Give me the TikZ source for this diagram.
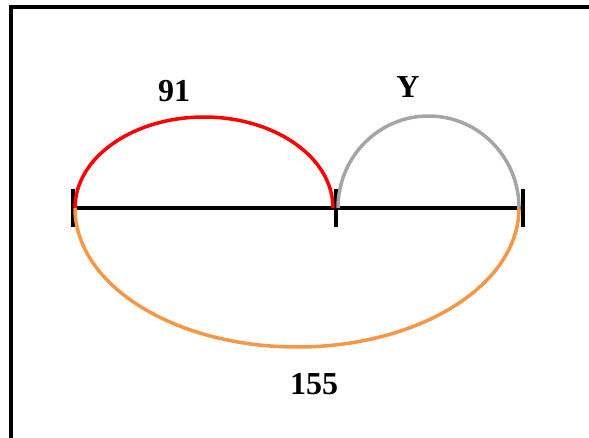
\documentclass[tikz,border=0pt]{standalone}
\usepackage{fontspec}
\setmainfont{Liberation Serif}
\definecolor{arcorange}{RGB}{247,150,70}
\definecolor{arcgray}{RGB}{165,165,165}

\begin{document}
\begin{tikzpicture}[x=1pt, y=1pt, every node/.style={font=\fontsize{32}{32}\selectfont\bfseries},
	arcline/.style={line width=3.5pt}, tickmark/.style={line width=4pt}]
	\clip (0,0) rectangle (589,437);
	% frame
	\draw[line width=4pt] (11,-10) -- (11,430) -- (600,430);
	% segment and ticks
	\coordinate (A) at (73,229);
	\coordinate (M) at (336,229);
	\coordinate (B) at (523,229);
	\draw[line width=4pt] (A) -- (B);
	\foreach \p in {A,M,B} \draw[tickmark] (\p) ++(0,19) -- ++(0,-38);
	% arcs
	\draw[red, arcline] (75,229) arc[start angle=180, end angle=0, x radius=129, y radius=91];
	\draw[arcgray, arcline] (338,229) arc[start angle=180, end angle=0, x radius=90.5, y radius=92];
	\draw[arcorange, arcline] (75,229) arc[start angle=180, end angle=360, x radius=222, y radius=139];
	% labels
	\node (lred) at (174,346) {91};
	\node (lgray) at (408,350) {Y};
	\node (lorange) at (314,53) {155};
\end{tikzpicture}
\end{document}
